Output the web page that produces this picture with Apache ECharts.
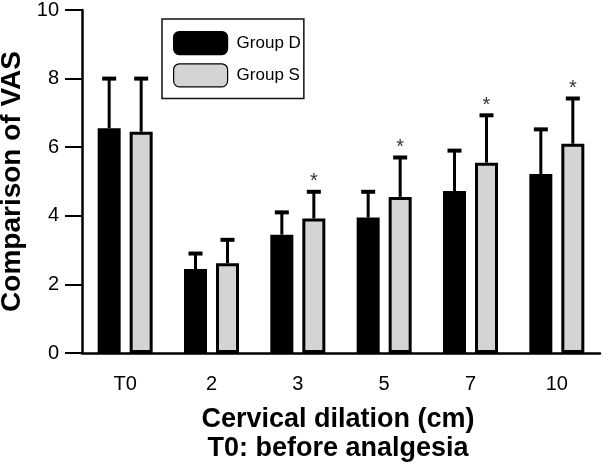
<!DOCTYPE html>
<html>
<head>
<meta charset="utf-8">
<script src="https://cdn.jsdelivr.net/npm/echarts@6/dist/echarts.min.js"></script>
<style>html,body{margin:0;padding:0;background:#fff;}#c{width:603px;height:468px;}</style>
</head>
<body>
<div id="c"></div>
<script>
var categories = ['T0', '2', '3', '5', '7', '10'];
var groupD = [6.55, 2.45, 3.45, 3.95, 4.72, 5.22];
var groupS = [6.45, 2.62, 3.92, 4.55, 5.55, 6.1];
var sdD = [1.45, 0.45, 0.65, 0.75, 1.18, 1.3];
var sdS = [1.55, 0.68, 0.78, 1.15, 1.38, 1.32];
var sigS = [0, 0, 1, 1, 1, 1];
var yTicks = [0, 2, 4, 6, 8, 10];

var FONT = 'Liberation Sans, Arial, Helvetica, sans-serif';
var BAR_W = 23, BAR_GAP = 9;
var OFF = (BAR_W + BAR_GAP) / 2;

function errData(means, sds, sig) {
  return means.map(function (m, i) { return [i, m, m + sds[i], sig ? sig[i] : 0]; });
}
function errRender(offset) {
  return function (params, api) {
    var i = api.value(0);
    var p0 = api.coord([i, api.value(1)]);
    var p1 = api.coord([i, api.value(2)]);
    var x = p0[0] + offset;
    var children = [
      { type: 'line', shape: { x1: x, y1: p0[1], x2: x, y2: p1[1] }, style: { stroke: '#000', lineWidth: 3 } },
      { type: 'line', shape: { x1: x - 7, y1: p1[1], x2: x + 7, y2: p1[1] }, style: { stroke: '#000', lineWidth: 4 } }
    ];
    if (api.value(3) === 1) {
      children.push({ type: 'text', x: x, y: p1[1], style: { text: '*', fill: '#333', font: '20px ' + FONT, textAlign: 'center', textVerticalAlign: 'bottom' } });
    }
    return { type: 'group', children: children };
  };
}

var chart = echarts.init(document.getElementById('c'), null, { renderer: 'canvas' });
chart.setOption({
  animation: false,
  backgroundColor: '#fff',
  grid: { left: 82, top: 10, right: 3, bottom: 115, containLabel: false, outerBoundsMode: 'none' },
  legend: {
    orient: 'vertical',
    left: 162, top: 19,
    padding: [12, 3, 11, 11],
    itemGap: 8,
    itemWidth: 54, itemHeight: 23,
    borderColor: '#111', borderWidth: 1.5,
    textStyle: { fontFamily: FONT, fontSize: 17, color: '#000', padding: [0, 0, 0, 4] },
    itemStyle: { borderColor: '#000', borderWidth: 1.2 },
    data: ['Group D', 'Group S']
  },
  xAxis: {
    type: 'category',
    data: categories,
    axisLine: { lineStyle: { color: '#000', width: 2.5 } },
    axisTick: { alignWithLabel: true, length: 14, lineStyle: { color: '#000', width: 2 } },
    axisLabel: { fontFamily: FONT, fontSize: 20, color: '#000', margin: 21 }
  },
  yAxis: {
    type: 'value',
    min: 0, max: 10, interval: 2,
    name: 'Comparison of VAS',
    nameLocation: 'middle',
    nameGap: 54,
    nameTextStyle: { fontFamily: FONT, fontSize: 28, fontWeight: 'bold', color: '#000' },
    splitLine: { show: false },
    axisLine: { show: true, lineStyle: { color: '#000', width: 2.5 } },
    axisTick: { show: true, length: 17, lineStyle: { color: '#000', width: 2 } },
    axisLabel: { fontFamily: FONT, fontSize: 20, color: '#000', margin: 23,
      formatter: function (v) { return yTicks.indexOf(v) >= 0 ? String(v) : ''; } }
  },
  series: [
    { name: 'Group D', type: 'bar', data: groupD, barWidth: BAR_W, barGap: (BAR_GAP / BAR_W * 100) + '%',
      itemStyle: { color: '#000', borderColor: '#000', borderWidth: 2.5 }, z: 3 },
    { name: 'Group S', type: 'bar', data: groupS, barWidth: BAR_W,
      itemStyle: { color: '#d4d4d4', borderColor: '#000', borderWidth: 3 }, z: 3 },
    { type: 'custom', renderItem: errRender(-OFF), data: errData(groupD, sdD), z: 2, silent: true },
    { type: 'custom', renderItem: errRender(OFF), data: errData(groupS, sdS, sigS), z: 2, silent: true }
  ],
  graphic: [
    { type: 'text', x: 338, y: 406, style: { text: 'Cervical dilation (cm)', font: 'bold 27px ' + FONT, fill: '#000', textAlign: 'center', textVerticalAlign: 'top' } },
    { type: 'text', x: 338, y: 435, style: { text: 'T0: before analgesia', font: 'bold 27px ' + FONT, fill: '#000', textAlign: 'center', textVerticalAlign: 'top' } }
  ]
});
</script>
</body>
</html>
